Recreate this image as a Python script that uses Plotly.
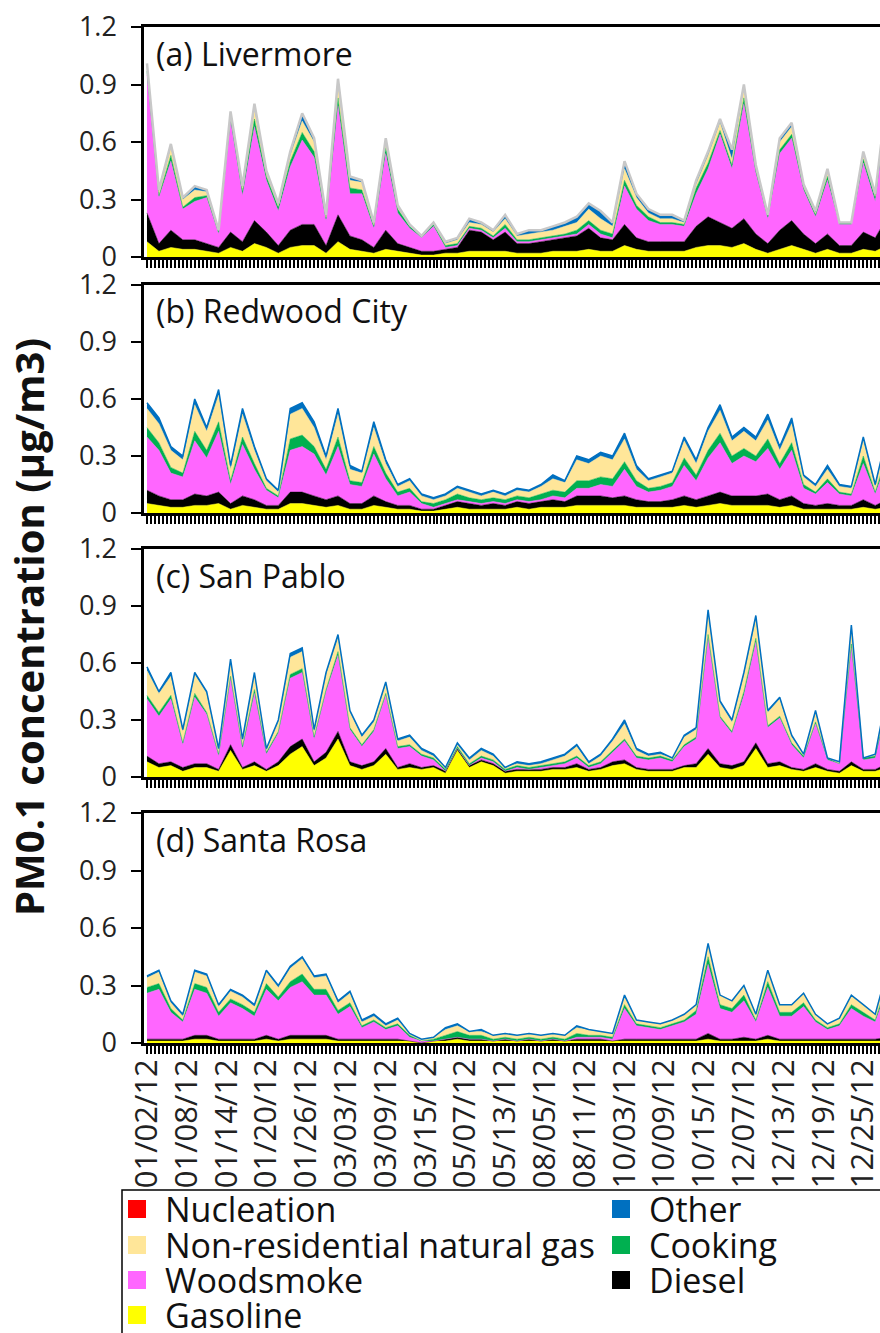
import plotly.graph_objects as go

# ---------------- data ----------------
# sample positions on the day-index axis (index 0 = 01/02/12, one tick per index)
sample_x = list(range(0, 187, 3))
n_ticks = 185
date_labels = ["01/02/12", "01/08/12", "01/14/12", "01/20/12", "01/26/12", "03/03/12",
               "03/09/12", "03/15/12", "05/07/12", "05/13/12", "08/05/12", "08/11/12",
               "10/03/12", "10/09/12", "10/15/12", "12/07/12", "12/13/12", "12/19/12",
               "12/25/12"]
y_ticks = [0, 0.3, 0.6, 0.9, 1.2]
y_ticktext = ["0", "0.3", "0.6", "0.9", "1.2"]

sites = ["(a) Livermore", "(b) Redwood City", "(c) San Pablo", "(d) Santa Rosa"]

# (a) Livermore
lv_gas = [.08,.03,.05,.04,.04,.03,.02,.05,.03,.07,.05,.02,.05,.06,.06,.02,.08,.04,.03,.02,.04,.03,.02,.01,.01,.02,.02,.03,.03,.03,.03,.02,.02,.02,.03,.03,.03,.04,.03,.03,.06,.04,.03,.03,.03,.03,.05,.06,.06,.05,.07,.04,.02,.04,.06,.04,.02,.04,.02,.02,.04,.03,.06]
lv_diesel = [.15,.04,.09,.05,.05,.04,.03,.08,.05,.12,.08,.04,.09,.11,.11,.04,.14,.07,.06,.03,.10,.04,.03,.02,.02,.02,.03,.11,.10,.06,.10,.05,.05,.06,.06,.07,.08,.11,.07,.06,.11,.06,.05,.05,.05,.05,.11,.15,.12,.10,.13,.08,.05,.10,.13,.08,.05,.08,.04,.04,.09,.07,.15]
lv_wood = [.72,.24,.36,.16,.20,.24,.07,.58,.24,.49,.27,.18,.33,.44,.35,.13,.57,.22,.24,.10,.40,.16,.10,.07,.13,.01,.01,.01,.01,.01,.02,.01,.01,.01,.01,.01,.01,.02,.02,.01,.20,.15,.11,.09,.09,.08,.17,.25,.46,.31,.60,.32,.13,.40,.43,.23,.14,.28,.11,.11,.36,.19,.57]
lv_cook = [.02,.01,.03,.01,.02,.01,.01,.02,.02,.04,.02,.02,.03,.04,.03,.01,.04,.03,.02,.01,.03,.02,.01,.01,.01,.01,.01,.01,.01,.01,.02,.01,.01,.01,.01,.01,.02,.02,.02,.02,.03,.02,.02,.01,.01,.01,.03,.03,.02,.02,.03,.01,.01,.02,.02,.01,.01,.02,.01,.01,.02,.02,.03]
lv_ngas = [.03,.02,.04,.04,.04,.02,.01,.02,.02,.05,.02,.01,.03,.06,.05,.01,.07,.04,.04,.01,.03,.01,.01,.00,.01,.01,.02,.02,.02,.02,.03,.02,.03,.03,.03,.04,.04,.06,.06,.04,.06,.04,.02,.02,.02,.01,.02,.04,.04,.03,.05,.02,.01,.04,.04,.01,.01,.02,.00,.00,.03,.01,.03]
lv_other = [.01,.01,.02,.01,.02,.01,.00,.01,.01,.03,.01,.01,.02,.04,.02,.01,.03,.02,.01,.01,.02,.01,.00,.00,.00,.01,.01,.02,.01,.01,.02,.01,.02,.01,.02,.02,.03,.03,.04,.02,.04,.02,.02,.02,.02,.01,.02,.02,.02,.05,.02,.01,.00,.02,.02,.01,.01,.02,.00,.00,.01,.01,.01]

# (b) Redwood City
rc_gas = [.05,.04,.03,.03,.04,.04,.05,.02,.04,.03,.02,.02,.05,.05,.04,.03,.04,.02,.02,.04,.03,.02,.02,.01,.01,.02,.03,.02,.02,.02,.02,.03,.02,.03,.03,.03,.04,.04,.04,.04,.04,.03,.03,.03,.03,.04,.03,.04,.05,.04,.04,.04,.04,.03,.04,.02,.02,.02,.02,.02,.03,.02,.03]
rc_diesel = [.07,.05,.04,.04,.06,.05,.06,.03,.05,.04,.02,.02,.06,.06,.05,.04,.05,.03,.03,.05,.03,.02,.02,.01,.01,.02,.03,.03,.02,.03,.02,.03,.03,.03,.04,.03,.05,.05,.05,.04,.05,.04,.03,.03,.04,.05,.04,.05,.06,.05,.05,.05,.06,.04,.05,.03,.02,.03,.02,.02,.04,.02,.04]
rc_wood = [.28,.24,.14,.12,.28,.20,.32,.10,.27,.16,.08,.04,.22,.24,.22,.13,.26,.10,.09,.22,.12,.05,.07,.03,.01,.01,.01,.01,.01,.01,.01,.01,.01,.01,.02,.02,.04,.04,.06,.06,.14,.07,.05,.06,.07,.16,.10,.20,.26,.17,.21,.18,.24,.16,.24,.08,.06,.11,.06,.05,.19,.06,.20]
rc_cook = [.05,.04,.03,.02,.05,.04,.05,.02,.04,.03,.01,.01,.06,.06,.04,.03,.05,.02,.02,.04,.03,.02,.02,.01,.02,.02,.03,.02,.02,.02,.02,.02,.02,.03,.03,.03,.04,.04,.04,.04,.04,.03,.02,.02,.02,.04,.03,.04,.05,.04,.04,.03,.05,.03,.04,.02,.01,.02,.01,.01,.04,.01,.04]
rc_ngas = [.10,.10,.09,.07,.14,.10,.14,.06,.12,.07,.04,.02,.13,.14,.10,.05,.12,.06,.05,.10,.05,.03,.04,.03,.02,.02,.03,.03,.02,.03,.02,.03,.03,.04,.06,.05,.11,.09,.11,.10,.12,.06,.04,.05,.05,.09,.06,.10,.12,.08,.09,.08,.10,.07,.10,.04,.03,.05,.03,.03,.08,.03,.09]
rc_other = [.03,.03,.02,.02,.03,.02,.03,.02,.03,.02,.01,.01,.03,.03,.03,.02,.03,.02,.01,.03,.02,.01,.01,.01,.01,.01,.01,.01,.01,.01,.01,.01,.01,.01,.02,.01,.02,.02,.02,.02,.03,.02,.01,.01,.01,.02,.02,.02,.03,.02,.02,.02,.03,.02,.03,.01,.01,.02,.01,.01,.02,.01,.02]

# (c) San Pablo
sp_gas = [.08,.05,.06,.03,.05,.05,.03,.14,.04,.06,.03,.06,.12,.16,.06,.10,.20,.06,.04,.06,.12,.04,.05,.04,.05,.02,.14,.05,.08,.06,.02,.03,.03,.03,.04,.04,.05,.03,.04,.06,.07,.04,.03,.03,.03,.05,.05,.12,.05,.04,.06,.15,.05,.06,.04,.03,.05,.03,.02,.06,.03,.03,.05]
sp_diesel = [.03,.02,.02,.02,.02,.02,.01,.03,.01,.02,.01,.02,.04,.04,.02,.03,.04,.02,.02,.02,.03,.01,.02,.01,.01,.01,.01,.01,.01,.01,.01,.01,.01,.01,.01,.01,.02,.01,.01,.02,.02,.01,.01,.01,.01,.01,.02,.03,.02,.02,.02,.03,.02,.02,.01,.01,.02,.01,.01,.02,.01,.01,.02]
sp_wood = [.30,.25,.33,.12,.35,.26,.07,.35,.10,.36,.08,.15,.36,.35,.12,.32,.40,.17,.10,.16,.28,.10,.09,.06,.03,.00,.00,.00,.01,.01,.00,.01,.00,.01,.01,.02,.03,.01,.02,.05,.10,.05,.05,.06,.04,.10,.13,.58,.24,.17,.35,.53,.19,.23,.12,.06,.21,.05,.04,.60,.05,.06,.30]
sp_cook = [.02,.02,.02,.01,.02,.01,.01,.01,.01,.02,.01,.01,.02,.02,.01,.01,.02,.01,.01,.01,.01,.01,.01,.01,.01,.01,.01,.01,.01,.01,.01,.01,.01,.01,.01,.01,.01,.01,.01,.01,.01,.01,.01,.01,.01,.01,.01,.02,.01,.01,.02,.02,.01,.01,.01,.01,.01,.01,.00,.02,.01,.01,.01]
sp_ngas = [.13,.10,.10,.06,.10,.10,.02,.08,.03,.08,.01,.05,.09,.09,.03,.08,.07,.08,.04,.04,.05,.03,.04,.02,.01,.01,.01,.02,.03,.02,.01,.01,.01,.01,.02,.03,.05,.01,.03,.05,.08,.03,.01,.01,.01,.04,.04,.11,.07,.05,.09,.10,.07,.09,.03,.01,.05,.00,.01,.09,.00,.01,.06]
sp_other = [.02,.01,.02,.01,.01,.01,.01,.01,.01,.01,.01,.01,.02,.02,.01,.01,.02,.01,.01,.01,.01,.01,.01,.01,.01,.00,.01,.01,.01,.01,.00,.01,.01,.01,.01,.01,.01,.01,.01,.01,.02,.01,.01,.01,.00,.01,.01,.02,.01,.01,.01,.02,.01,.01,.01,.00,.01,.00,.00,.01,.00,.00,.01]

# (d) Santa Rosa
sr_gas = [.01,.01,.01,.01,.02,.02,.01,.01,.01,.01,.02,.01,.02,.02,.02,.02,.01,.01,.01,.01,.01,.01,.01,.00,.01,.01,.02,.01,.01,.01,.01,.01,.01,.01,.01,.01,.01,.01,.01,.01,.01,.01,.01,.01,.01,.01,.01,.02,.01,.01,.01,.01,.02,.01,.01,.01,.01,.01,.01,.01,.01,.01,.01]
sr_diesel = [.01,.01,.01,.01,.02,.02,.01,.01,.01,.01,.02,.01,.02,.02,.02,.02,.01,.01,.01,.01,.01,.01,.00,.00,.00,.01,.01,.01,.01,.00,.01,.00,.01,.00,.01,.00,.01,.01,.01,.00,.01,.01,.01,.01,.01,.01,.01,.03,.01,.01,.02,.01,.02,.01,.01,.01,.01,.01,.01,.01,.01,.01,.02]
sr_wood = [.24,.26,.14,.09,.24,.22,.12,.19,.16,.12,.24,.20,.25,.28,.21,.21,.13,.17,.06,.09,.05,.07,.02,.01,.00,.00,.00,.00,.00,.00,.00,.00,.00,.00,.00,.00,.01,.01,.01,.01,.16,.07,.06,.05,.07,.09,.13,.36,.16,.14,.19,.09,.25,.12,.12,.17,.09,.05,.07,.16,.12,.09,.25]
sr_cook = [.03,.03,.02,.01,.03,.03,.02,.02,.02,.02,.03,.02,.03,.04,.03,.03,.02,.02,.01,.01,.01,.01,.01,.00,.01,.02,.03,.02,.02,.01,.01,.01,.01,.01,.01,.01,.02,.01,.01,.01,.02,.01,.01,.01,.01,.01,.02,.04,.02,.02,.03,.01,.03,.02,.02,.02,.01,.01,.01,.02,.02,.01,.03]
sr_ngas = [.05,.06,.03,.02,.06,.06,.03,.04,.04,.03,.06,.05,.07,.08,.06,.07,.04,.05,.02,.02,.01,.02,.01,.01,.01,.03,.03,.02,.02,.02,.02,.02,.02,.02,.02,.02,.03,.03,.02,.02,.04,.02,.02,.02,.02,.03,.03,.06,.05,.04,.05,.03,.06,.04,.04,.05,.03,.02,.03,.05,.04,.03,.07]
sr_other = [.01,.01,.01,.01,.01,.01,.01,.01,.01,.01,.01,.01,.01,.01,.01,.01,.01,.01,.01,.01,.01,.01,.00,.00,.00,.01,.01,.00,.01,.00,.00,.00,.00,.00,.00,.00,.01,.00,.00,.00,.01,.00,.00,.00,.00,.00,.00,.01,.00,.00,.00,.00,.00,.00,.00,.00,.00,.00,.00,.00,.00,.00,.00]

panels = [
    (lv_gas, lv_diesel, lv_wood, lv_cook, lv_ngas, lv_other),
    (rc_gas, rc_diesel, rc_wood, rc_cook, rc_ngas, rc_other),
    (sp_gas, sp_diesel, sp_wood, sp_cook, sp_ngas, sp_other),
    (sr_gas, sr_diesel, sr_wood, sr_cook, sr_ngas, sr_other),
]

source_names = ["Gasoline", "Diesel", "Woodsmoke", "Cooking", "Non-residential natural gas", "Other"]
source_colors = ["#FFFF00", "#000000", "#FF66FF", "#00B050", "#FFE699", "#0070C0"]

legend_col1 = [("Nucleation", "#FF0000"), ("Non-residential natural gas", "#FFE699"),
               ("Woodsmoke", "#FF66FF"), ("Gasoline", "#FFFF00")]
legend_col2 = [("Other", "#0070C0"), ("Cooking", "#00B050"), ("Diesel", "#000000")]

# ---------------- layout helpers ----------------
W, H = 880, 1333
FONT = "Open Sans"
def py(px):  # pixel row -> paper y
    return 1 - px / H
def pxx(px):
    return px / W

panel_px = [(27, 257), (285, 513), (549, 777), (813, 1043)]  # (top, bottom) pixel rows

fig = go.Figure()

for p, series in enumerate(panels):
    ax = "" if p == 0 else str(p + 1)
    for s, (vals, name, col) in enumerate(zip(series, source_names, source_colors)):
        line = dict(width=0.5, color=col)
        if s == len(series) - 1:
            line = dict(width=2.5, color="#C8C8C8") if p == 0 else dict(width=1.5, color=col)
        fig.add_trace(go.Scatter(
            x=sample_x, y=vals, name=name, mode="lines", stackgroup=f"g{p}",
            fillcolor=col, line=line, showlegend=False,
            xaxis="x" + ax, yaxis="y" + ax, hoverinfo="skip"))

tickvals = list(range(n_ticks))
ticktext = [date_labels[i // 10] if i % 10 == 0 and i // 10 < len(date_labels) else "" for i in tickvals]

layout = dict(width=W, height=H, margin=dict(l=0, r=0, t=0, b=0, autoexpand=False),
              paper_bgcolor="white", plot_bgcolor="white", showlegend=False,
              font=dict(family=FONT, color="#222222"))
for p, (top, bot) in enumerate(panel_px):
    k = "" if p == 0 else str(p + 1)
    layout["xaxis" + k] = dict(
        domain=[pxx(144), 1.0], range=[-0.75, 184.2], anchor="y" + k, automargin=False,
        tickmode="array", tickvals=tickvals, ticktext=ticktext,
        showticklabels=(p == 3), tickangle=-90, ticklabeloverflow="allow",
        ticklabelstandoff=-7,
        tickfont=dict(size=31, family=FONT, color="#222222"),
        ticks="outside", ticklen=8, tickwidth=1.5, tickcolor="black",
        showline=True, linecolor="black", linewidth=2.5, mirror=True,
        showgrid=False, zeroline=False, fixedrange=True)
    layout["yaxis" + k] = dict(
        domain=[py(bot), py(top)], range=[0, 1.2], anchor="x" + k, automargin=False,
        tickmode="array", tickvals=y_ticks, ticktext=y_ticktext, ticklabelstandoff=9,
        ticks="outside", ticklen=10, tickwidth=2, tickcolor="black",
        tickfont=dict(size=27, family=FONT, color="#222222"),
        showline=True, linecolor="black", linewidth=2.5, mirror=False,
        showgrid=False, zeroline=False, fixedrange=True)
fig.update_layout(**layout)

annotations = []
for p, (top, bot) in enumerate(panel_px):
    annotations.append(dict(text=sites[p], xref="paper", yref="paper",
                            x=pxx(154), y=py(top + 26), xanchor="left", yanchor="middle",
                            showarrow=False, font=dict(size=32, family=FONT, color="#111111")))
annotations.append(dict(text="PM0.1 concentration (µg/m3)", xref="paper", yref="paper",
                        x=pxx(28), y=py(627), textangle=-90, xanchor="center", yanchor="middle",
                        showarrow=False, font=dict(size=40, family=FONT, color="#111111", weight="bold")))

# legend box (drawn manually to reproduce two-column layout)
shapes = [dict(type="rect", xref="paper", yref="paper", x0=pxx(122), x1=pxx(900),
               y0=py(1345), y1=py(1190), line=dict(color="black", width=1.5), fillcolor="rgba(0,0,0,0)")]
row_y = [1209, 1245, 1280, 1315]
for col_items, sx, tx in [(legend_col1, 128, 163), (legend_col2, 612, 647)]:
    for r, (label, color) in enumerate(col_items):
        cy = row_y[r]
        shapes.append(dict(type="rect", xref="paper", yref="paper",
                           x0=pxx(sx), x1=pxx(sx + 18), y0=py(cy + 9), y1=py(cy - 9),
                           line=dict(width=0), fillcolor=color))
        annotations.append(dict(text=label, xref="paper", yref="paper", x=pxx(tx), y=py(cy),
                                xanchor="left", yanchor="middle", showarrow=False,
                                font=dict(size=34, family=FONT, color="#111111")))
fig.update_layout(annotations=annotations, shapes=shapes)

fig.write_html("out.html")
